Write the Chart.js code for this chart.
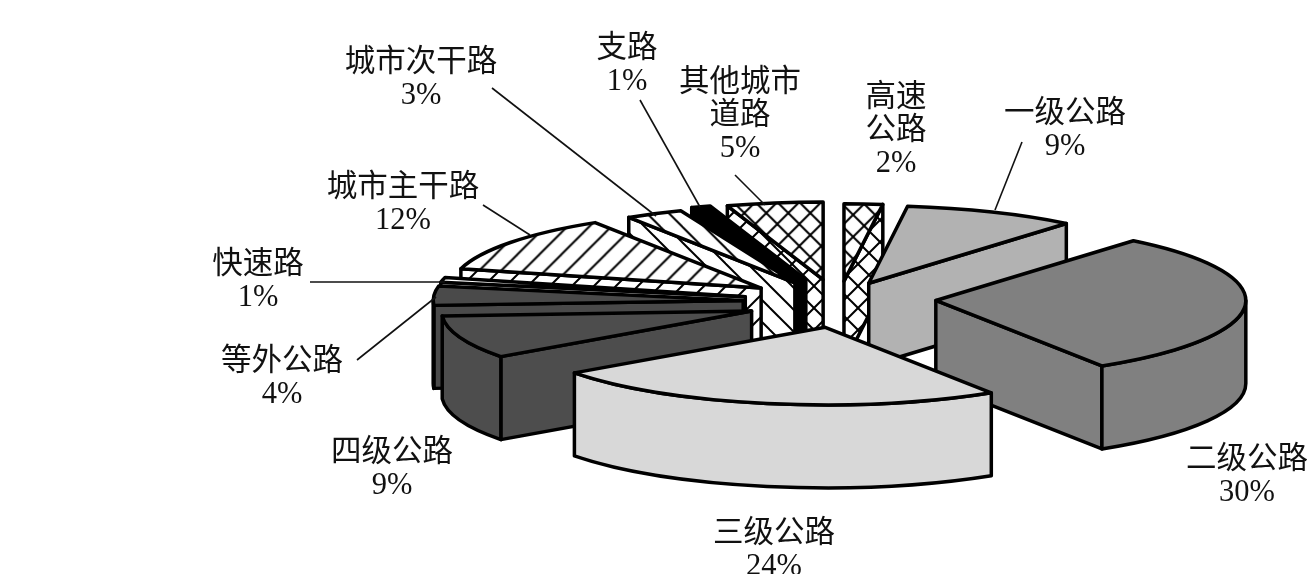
<!DOCTYPE html>
<html>
<head>
<meta charset="utf-8">
<style>
  html, body { margin: 0; padding: 0; background: #fff; }
  #box { width: 1307px; height: 574px; }
</style>
<script src="https://cdn.jsdelivr.net/npm/chart.js@4"></script>
</head>
<body>
<div id="box"><canvas id="chart" width="1307" height="574"></canvas></div>
<script>
// slices, clockwise from 12 o'clock
const categories = ['高速\n公路', '一级公路', '二级公路', '三级公路', '四级公路', '等外公路',
  '快速路', '城市主干路', '城市次干路', '支路', '其他城市\n道路'];
const shares = [2, 9, 30, 24, 9, 4, 1, 12, 3, 1, 5];
const fillNames = ['cross', '#b2b2b2', '#808080', '#d8d8d8', '#4d4d4d', '#4a4a4a',
  '#ffffff', 'slash', 'backslash', '#000000', 'cross'];

// label centres (first line) and leader lines
const labelAt = [[896, 98], [1065, 114], [1247, 460], [774, 534], [392, 453], [282, 362],
  [258, 265], [403, 188], [421, 63], [627, 49], [740, 83]];
const leaders = [null, [1022, 142, 995, 210], null, null, null, [357, 360, 436, 297],
  [310, 282, 445, 282], [483, 205, 530, 235], [492, 88, 656, 216], [640, 100, 700, 207], [735, 175, 765, 205]];

// tilted view
const RX = 310;
const TILT = 0.25;
const DEPTH = 83;
const EXPLODE = 95;
const CENTER_X = 838;
const CENTER_Y = 302;
// the original has some perspective, small per-slice corrections for it
const nudges = [[0, 3], [-7, 3], [3, -3], [5, 2], [3, 1], [0, 0], [0, 0], [0, 0], [0, 2], [0, 0], [0, 1]];

function hatch(kind) {
  const size = 22;
  const tile = document.createElement('canvas');
  tile.width = tile.height = size;
  const c = tile.getContext('2d');
  c.fillStyle = '#fff';
  c.fillRect(0, 0, size, size);
  c.strokeStyle = '#000';
  c.lineWidth = 2;
  const line = (x1, y1, x2, y2) => {
    c.beginPath();
    c.moveTo(x1, y1);
    c.lineTo(x2, y2);
    c.stroke();
  };
  if (kind !== 'backslash') {
    line(-4, 4, 4, -4);
    line(-4, size + 4, size + 4, -4);
    line(size - 4, size + 4, size + 4, size - 4);
  }
  if (kind !== 'slash') {
    line(-4, size - 4, 4, size + 4);
    line(-4, -4, size + 4, size + 4);
    line(size - 4, -4, size + 4, 4);
  }
  return c.createPattern(tile, 'repeat');
}

const sliceFills = fillNames.map(f => f[0] === '#' ? f : hatch(f));

const pie3d = {
  id: 'pie3d',
  beforeDatasetDraw(chart) {
    const ctx = chart.ctx;
    const arcs = chart.getDatasetMeta(0).data;
    const sx = RX / arcs[0].outerRadius;
    const sy = sx * TILT;
    const rx = RX;
    const ry = RX * TILT;

    // patterns are laid out in chart space, undo the squash for them
    sliceFills.forEach(f => {
      if (f instanceof CanvasPattern) f.setTransform(new DOMMatrix().scale(1 / sx, 1 / sy));
    });

    const paint = (fill) => {
      ctx.save();
      ctx.scale(sx, sy);
      ctx.fillStyle = fill;
      ctx.fill();
      ctx.restore();
      ctx.stroke();
    };

    const order = arcs.map((arc, i) => i).sort((a, b) => {
      const mid = i => (arcs[i].startAngle + arcs[i].endAngle) / 2;
      return Math.sin(mid(a)) - Math.sin(mid(b));
    });

    ctx.save();
    ctx.lineWidth = 3.5;
    ctx.lineJoin = 'round';
    ctx.strokeStyle = '#000';

    order.forEach(i => {
      const arc = arcs[i];
      const a1 = arc.startAngle;
      const a2 = arc.endAngle;
      const mid = (a1 + a2) / 2;
      const ox = CENTER_X + Math.cos(mid) * EXPLODE + nudges[i][0];
      const oy = CENTER_Y + Math.sin(mid) * EXPLODE * TILT + nudges[i][1];
      const px = a => ox + rx * Math.cos(a);
      const py = a => oy + ry * Math.sin(a);

      const radial = a => {
        ctx.beginPath();
        ctx.moveTo(ox, oy);
        ctx.lineTo(px(a), py(a));
        ctx.lineTo(px(a), py(a) + DEPTH);
        ctx.lineTo(ox, oy + DEPTH);
        ctx.closePath();
        paint(sliceFills[i]);
      };
      if (Math.cos(a1) < 0) radial(a1);
      if (Math.cos(a2) > 0) radial(a2);

      // outer wall, only the part that faces us
      const lo = Math.max(a1, 0);
      const hi = Math.min(a2, Math.PI);
      if (hi > lo) {
        ctx.beginPath();
        ctx.ellipse(ox, oy, rx, ry, 0, lo, hi);
        ctx.ellipse(ox, oy + DEPTH, rx, ry, 0, hi, lo, true);
        ctx.closePath();
        paint(sliceFills[i]);
      }

      // top face: the library's own arc, squashed and moved out
      ctx.save();
      ctx.translate(ox, oy);
      ctx.scale(sx, sy);
      ctx.translate(-arc.x, -arc.y);
      arc.draw(ctx);
      ctx.restore();

      ctx.beginPath();
      ctx.moveTo(ox, oy);
      ctx.ellipse(ox, oy, rx, ry, 0, a1, a2);
      ctx.closePath();
      ctx.stroke();
    });
    ctx.restore();
    return false;
  },
  afterDraw(chart) {
    const ctx = chart.ctx;
    ctx.save();
    ctx.strokeStyle = '#111';
    ctx.lineWidth = 1.6;
    leaders.forEach(l => {
      if (!l) return;
      ctx.beginPath();
      ctx.moveTo(l[0], l[1]);
      ctx.lineTo(l[2], l[3]);
      ctx.stroke();
    });
    ctx.fillStyle = '#111';
    ctx.font = '30.5px "Liberation Serif", "Noto Sans CJK SC", serif';
    ctx.textAlign = 'center';
    ctx.textBaseline = 'middle';
    categories.forEach((name, i) => {
      const rows = name.split('\n').concat(shares[i] + '%');
      rows.forEach((row, k) => {
        ctx.fillText(row, labelAt[i][0], labelAt[i][1] + k * 33);
      });
    });
    ctx.restore();
  }
};

new Chart(document.getElementById('chart').getContext('2d'), {
  type: 'pie',
  data: {
    labels: categories,
    datasets: [{
      data: shares,
      backgroundColor: sliceFills,
      borderWidth: 0
    }]
  },
  options: {
    responsive: false,
    animation: false,
    plugins: { legend: { display: false }, tooltip: { enabled: false } }
  },
  plugins: [pie3d]
});
</script>
</body>
</html>
